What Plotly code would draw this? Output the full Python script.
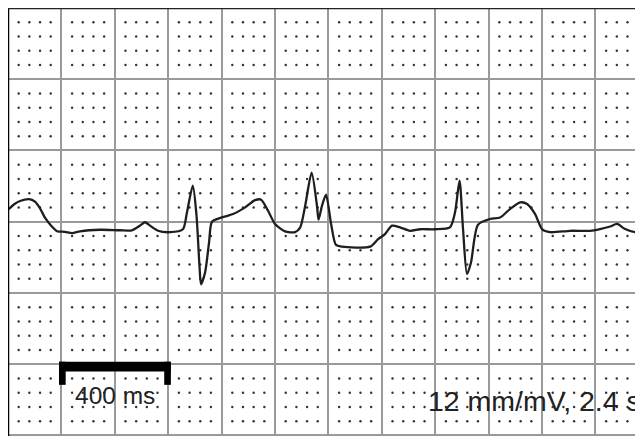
import numpy as np
import plotly.graph_objects as go

# ECG trace: time (s) and amplitude (mV)
t_s = [0.000, 0.026, 0.045, 0.079, 0.101, 0.120, 0.139, 0.165, 0.184, 0.213,
       0.240, 0.270, 0.345, 0.419, 0.464, 0.494, 0.513, 0.532, 0.562, 0.607,
       0.655, 0.670, 0.692, 0.706, 0.717, 0.723, 0.738, 0.753, 0.764, 0.801,
       0.843, 0.888, 0.925, 0.948, 0.974, 1.000, 1.037, 1.075, 1.094, 1.113,
       1.137, 1.157, 1.163, 1.176, 1.191, 1.210, 1.228, 1.251, 1.356, 1.386,
       1.412, 1.438, 1.468, 1.506, 1.543, 1.599, 1.655, 1.674, 1.691, 1.704,
       1.719, 1.734, 1.760, 1.805, 1.843, 1.880, 1.918, 1.944, 1.974, 2.000,
       2.030, 2.105, 2.180, 2.217, 2.255, 2.281, 2.311, 2.348, 2.400]
mv = [0.070, 0.105, 0.121, 0.132, 0.117, 0.078, 0.022, -0.029, -0.056, -0.059,
      -0.067, -0.056, -0.047, -0.050, -0.050, -0.023, -0.003, -0.023, -0.053, -0.061,
      -0.044, 0.053, 0.211, 0.035, -0.257, -0.366, -0.297, -0.121, 0.000, 0.025,
      0.045, 0.084, 0.126, 0.129, 0.064, -0.013, -0.056, -0.061, -0.035, 0.094,
      0.287, 0.094, 0.012, 0.094, 0.158, -0.013, -0.135, -0.146, -0.146, -0.102,
      -0.072, -0.023, -0.033, -0.053, -0.044, -0.044, -0.033, 0.054, 0.240, -0.041,
      -0.306, -0.238, -0.018, 0.016, 0.025, 0.074, 0.113, 0.104, 0.045, -0.043,
      -0.061, -0.053, -0.053, -0.043, -0.028, -0.013, -0.043, -0.061, -0.053]

# Paper settings
gain_mm_per_mv = 12
speed_mm_per_s = 25
scale_bar_s = [0.2, 0.6]
scale_label = "400 ms"
info_label = "12 mm/mV, 2.4 s"

mm_mv = 1.0 / gain_mm_per_mv        # 1 mm in mV
mm_s = 1.0 / speed_mm_per_s         # 1 mm in s
major_mv = 5 * mm_mv
major_s = 5 * mm_s

x_range = [0, 2.408]
y_range = [-1.3, 1.25]

# dotted 1 mm grid (not on major lines)
dx, dy = [], []
for i in range(int(x_range[1] / mm_s) + 2):
    if i % 5 == 0:
        continue
    for j in range(-16, 16):
        if j % 5 == 0:
            continue
        dx.append(i * mm_s)
        dy.append(j * mm_mv)

fig = go.Figure()
fig.add_trace(go.Scatter(x=dx, y=dy, mode="markers",
                         marker=dict(size=2.4, color="#333333"),
                         hoverinfo="skip", showlegend=False))
fig.add_trace(go.Scatter(x=t_s, y=mv, mode="lines",
                         line=dict(color="#1e1e1e", width=2.3, shape="spline", smoothing=0.7),
                         showlegend=False))

# scale bar
bx0, bx1 = scale_bar_s
fig.add_shape(type="rect", xref="x", yref="y", x0=bx0 - 0.009, x1=bx1 + 0.010,
              y0=-0.876, y1=-0.819, fillcolor="black", line=dict(width=0))
fig.add_shape(type="rect", xref="x", yref="y", x0=bx0 - 0.009, x1=bx0 + 0.016,
              y0=-0.954, y1=-0.819, fillcolor="black", line=dict(width=0))
fig.add_shape(type="rect", xref="x", yref="y", x0=bx1 - 0.015, x1=bx1 + 0.010,
              y0=-0.954, y1=-0.819, fillcolor="black", line=dict(width=0))

# border (left, top)
fig.add_shape(type="line", xref="paper", yref="paper", x0=0, x1=0, y0=0, y1=1,
              line=dict(color="black", width=2.5))
fig.add_shape(type="line", xref="paper", yref="paper", x0=0, x1=1, y0=1, y1=1,
              line=dict(color="#222", width=2.5))

fig.add_annotation(x=(bx0 + bx1) / 2, y=-1.015, xref="x", yref="y", text=scale_label,
                   showarrow=False, xanchor="center", yanchor="middle",
                   font=dict(family="Liberation Sans, Arial", size=24.5, color="#222"))
fig.add_annotation(x=1.566, y=-1.05, xref="x", yref="y", text=info_label,
                   showarrow=False, xanchor="left", yanchor="middle",
                   font=dict(family="Liberation Sans, Arial", size=28.5, color="#222"))

fig.update_xaxes(range=x_range, tick0=0, dtick=major_s, showgrid=True,
                 gridcolor="#9a9a9a", gridwidth=2, showticklabels=False,
                 zeroline=False, showline=False, ticks="")
fig.update_yaxes(range=y_range, tick0=0, dtick=major_mv, showgrid=True,
                 gridcolor="#9a9a9a", gridwidth=2, showticklabels=False,
                 zeroline=False, showline=False, ticks="")
fig.update_layout(width=643, height=436, autosize=False,
                  margin=dict(l=0, r=0, t=0, b=0),
                  paper_bgcolor="white", plot_bgcolor="white",
                  showlegend=False)
fig.write_html("out.html")
